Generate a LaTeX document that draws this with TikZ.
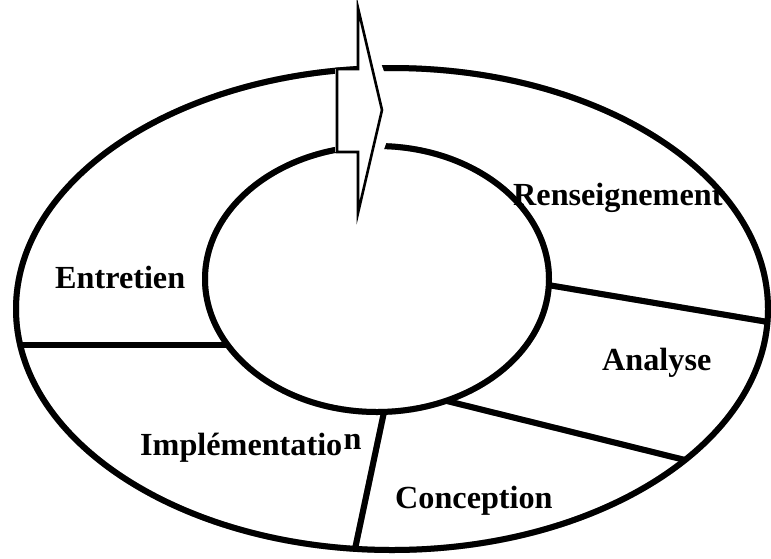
\documentclass[tikz,border=0pt]{standalone}
\usepackage{fontspec}
\setmainfont{Liberation Serif}
\begin{document}
\begin{tikzpicture}[x=1pt,y=-1pt,
  ring/.style={line width=6pt},
  divider/.style={line width=6pt},
  shadowline/.style={draw=black!38},
  lbl/.style={font=\fontsize{32.2}{35}\selectfont\bfseries, inner sep=0pt, anchor=base west},
  arrowbody/.style={draw=black, fill=white, line width=2.6pt, line join=miter}]
\useasboundingbox (0,0) rectangle (771,558);
% centres
\coordinate (Co) at (392,309);
\coordinate (Ci) at (377,279);
% divider end points
\coordinate (d1a) at (20,345);  \coordinate (d1b) at (228,345);
\coordinate (d2a) at (384,412); \coordinate (d2b) at (355,549);
\coordinate (d3a) at (447,401); \coordinate (d3b) at (685,460);
\coordinate (d4a) at (548,285); \coordinate (d4b) at (768,322);
% arrow points
\coordinate (a1) at (358,8);
\coordinate (a2) at (382,110);
\coordinate (a3) at (358,213);
\coordinate (a4) at (358,152);
\coordinate (a5) at (337,152);
\coordinate (a6) at (337,69);
\coordinate (a7) at (358,69);
\coordinate (g1) at (358,0);
\coordinate (g2) at (398,110);
\coordinate (g3) at (358,222);
% shadows
\begin{scope}[shift={(3,3)}]
  \draw[ring,shadowline] (Co) ellipse [x radius=376pt, y radius=241pt];
  \draw[ring,shadowline] (Ci) ellipse [x radius=172pt, y radius=133pt];
  \draw[divider,shadowline] (d1a) -- (d1b);
  \draw[divider,shadowline] (d2a) -- (d2b);
  \draw[divider,shadowline] (d3a) -- (d3b);
  \draw[divider,shadowline] (d4a) -- (d4b);
\end{scope}
% main lines
\draw[ring] (Co) ellipse [x radius=376pt, y radius=241pt];
\draw[ring] (Ci) ellipse [x radius=172pt, y radius=133pt];
\draw[divider] (d1a) -- (d1b);
\draw[divider] (d2a) -- (d2b);
\draw[divider] (d3a) -- (d3b);
\draw[divider] (d4a) -- (d4b);
% gap behind arrow
\fill[white] (g1) -- (g2) -- (g3) -- cycle;
\fill[white] ([shift={(-2,0)}]a6) rectangle (a4);
% arrow
\draw[arrowbody] (a1) -- (a2) -- (a3) -- (a4) -- (a5) -- (a6) -- (a7) -- cycle;
% labels
\node[lbl] (ren) at (513,205) {Renseignement};
\node[lbl] (ent) at (55,288) {Entretien};
\node[lbl] (ana) at (602,370) {Analyse};
\node[lbl] (imp) at (140,455) {Implémentatio};
\node[lbl] (impn) at ([xshift=1pt,yshift=6pt]imp.base east) {n};
\node[lbl] (con) at (395,508) {Conception};
\end{tikzpicture}
\end{document}
